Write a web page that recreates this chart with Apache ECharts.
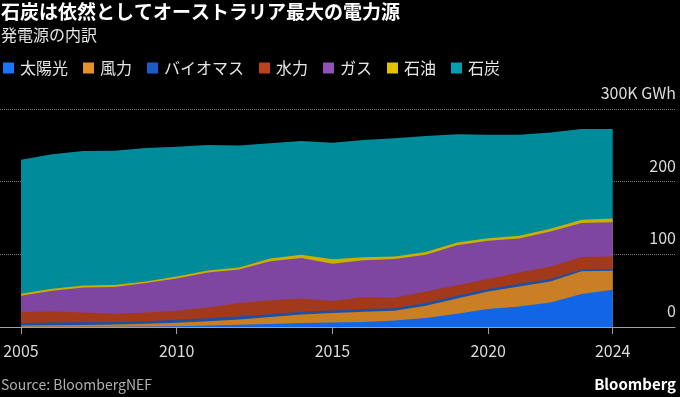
<!DOCTYPE html>
<html>
<head>
<meta charset="utf-8">
<script src="https://cdn.jsdelivr.net/npm/echarts@6/dist/echarts.min.js"></script>
<style>
  html, body { margin: 0; padding: 0; background: #000; }
  #chart { width: 680px; height: 397px; }
</style>
</head>
<body>
<div id="chart"></div>
<script>
// 年ごとの発電量（千GWh）
var years = [2005, 2006, 2007, 2008, 2009, 2010, 2011, 2012, 2013, 2014,
             2015, 2016, 2017, 2018, 2019, 2020, 2021, 2022, 2023, 2024];
var solar   = [0.2, 0.3, 0.4, 0.5, 0.8, 1.2, 2.2, 3.2, 4.1, 5.5, 6.3, 6.9, 9.1, 12.4, 18.3, 24.7, 28.3, 33.8, 45.4, 51.3];
var wind    = [1.8, 2.0, 2.3, 2.9, 3.6, 4.8, 5.8, 7.2, 9.8, 11.8, 12.9, 14.1, 13.3, 16.9, 21.0, 24.2, 27.5, 28.9, 31.4, 26.1];
var biomass = [3.5, 4.0, 3.9, 3.5, 3.6, 4.0, 4.0, 4.2, 3.7, 3.7, 3.6, 3.7, 3.3, 3.7, 3.7, 3.3, 3.7, 3.3, 2.5, 2.3];
var hydro   = [15.1, 15.1, 13.5, 11.4, 12.1, 12.4, 15.0, 18.4, 19.2, 18.3, 13.0, 16.5, 14.6, 15.9, 14.5, 13.8, 15.6, 17.3, 16.9, 17.3];
var gas     = [22.4, 28.5, 34.3, 36.7, 40.4, 44.4, 48.1, 46.2, 53.6, 55.5, 51.4, 50.6, 53.2, 50.5, 55.0, 52.6, 46.7, 48.1, 46.8, 47.3];
var oil     = [2.6, 2.7, 2.8, 2.7, 2.2, 2.8, 2.7, 2.7, 3.7, 4.6, 5.9, 4.1, 3.5, 3.7, 3.7, 3.7, 3.7, 3.7, 4.5, 5.0];
var coal    = [184.4, 185.2, 185.1, 185.0, 183.8, 178.6, 172.8, 167.7, 158.8, 156.7, 160.6, 161.6, 162.8, 159.9, 149.1, 142.4, 139.2, 132.4, 125.1, 123.3];

var yearTicks = [2005, 2010, 2015, 2020, 2024];

var FONT = '"Noto Sans CJK JP", "Noto Sans", sans-serif';

var myChart = echarts.init(document.getElementById('chart'));

// 下から積み上げる順（凡例色 / 面の色）
var layers = [
  { name: '太陽光', values: solar, color: '#1877ff', fill: '#1066e6' },
  { name: '風力', values: wind, color: '#e8922a', fill: '#ca7f24' },
  { name: 'バイオマス', values: biomass, color: '#1a5cc8', fill: '#1c4fa6' },
  { name: '水力', values: hydro, color: '#bb421f', fill: '#a3391b' },
  { name: 'ガス', values: gas, color: '#9151b9', fill: '#7e46a1' },
  { name: '石油', values: oil, color: '#e0c400', fill: '#c8b000' },
  { name: '石炭', values: coal, color: '#00a0b1', fill: '#008b9a' }
];

// 累積値を作り、上の層から先に描く（下の層が上に重なる）
var running = years.map(function () { return 0; });
var series = layers.map(function (l) {
  running = running.map(function (v, i) { return v + l.values[i]; });
  var cum = running.slice();
  return {
    name: l.name,
    type: 'line',
    symbol: 'none',
    color: l.color,
    lineStyle: { width: 0 },
    areaStyle: { color: l.fill, opacity: 1, origin: 'start' },
    emphasis: { disabled: true },
    data: years.map(function (y, i) { return [y, cum[i]]; })
  };
}).reverse();

var option = {
  backgroundColor: '#000',
  animation: false,
  textStyle: { fontFamily: FONT },
  title: [
    {
      text: '石炭は依然としてオーストラリア最大の電力源',
      subtext: '発電源の内訳',
      left: 1,
      top: 1,
      padding: 0,
      itemGap: 3,
      textStyle: { color: '#fff', fontSize: 19, fontWeight: 'bold', lineHeight: 21, fontFamily: FONT },
      subtextStyle: { color: '#e6e6e6', fontSize: 16, lineHeight: 20, fontFamily: FONT }
    },
    {
      text: 'Source: BloombergNEF',
      left: 1,
      top: 376,
      padding: 0,
      textStyle: { color: '#b0b0b0', fontSize: 14, fontWeight: 'normal', lineHeight: 18, fontFamily: FONT }
    },
    {
      text: 'Bloomberg',
      right: 4,
      top: 375,
      padding: 0,
      textStyle: { color: '#fff', fontSize: 15, fontWeight: 'bold', lineHeight: 18, fontFamily: FONT }
    }
  ],
  legend: {
    left: 3,
    top: 60,
    padding: 0,
    icon: 'rect',
    itemWidth: 11,
    itemHeight: 11,
    itemGap: 15,
    selectedMode: false,
    textStyle: { color: '#e6e6e6', fontSize: 16, fontFamily: FONT, padding: [0, 0, 0, 1] },
    data: ['太陽光', '風力', 'バイオマス', '水力', 'ガス', '石油', '石炭']
  },
  grid: {
    left: 0,
    right: 5,
    top: 109,
    bottom: 70,
    containLabel: false
  },
  xAxis: {
    type: 'value',
    min: 2004.326,
    max: 2026,
    axisLine: { show: true, lineStyle: { color: '#a0a0a0', width: 1 } },
    axisTick: { show: true, length: 7, customValues: yearTicks, lineStyle: { color: '#a0a0a0' } },
    axisLabel: {
      customValues: yearTicks,
      color: '#dcdcdc',
      fontSize: 16,
      margin: 16,
      fontFamily: FONT,
      formatter: function (v) { return String(v); }
    },
    splitLine: { show: false }
  },
  yAxis: {
    type: 'value',
    position: 'right',
    min: 0,
    max: 300,
    interval: 100,
    axisLine: { show: false },
    axisTick: { show: false },
    axisLabel: {
      inside: true,
      margin: -1,
      color: '#dcdcdc',
      fontSize: 16,
      fontFamily: FONT,
      verticalAlign: 'bottom',
      lineHeight: 16,
      padding: [0, 0, 8, 0],
      formatter: function (v) { return v === 300 ? '300K GWh' : String(v); }
    },
    splitLine: { show: true, lineStyle: { color: '#777', type: 'dotted', width: 1 } }
  },
  series: series
};

myChart.setOption(option);
</script>
</body>
</html>
